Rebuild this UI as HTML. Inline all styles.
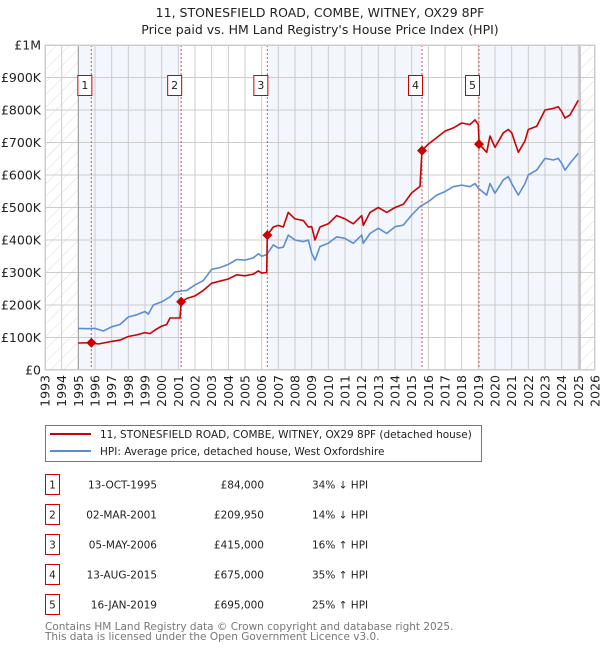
<!DOCTYPE html>
<html><head><meta charset="utf-8"><style>
body{margin:0;background:#fff;}
svg{display:block;font-family:"DejaVu Sans","Liberation Sans",sans-serif;}
</style></head><body>
<svg id="c" width="600" height="650" xmlns="http://www.w3.org/2000/svg">
<defs><pattern id="hatch" width="9" height="9" patternUnits="userSpaceOnUse" patternTransform="rotate(45)"><rect width="9" height="9" fill="#fff"/><line x1="0" y1="0" x2="0" y2="9" stroke="#d4d4d4" stroke-width="0.8"/></pattern></defs>
<text x="320" y="17" text-anchor="middle" font-size="12.5" fill="#222">11, STONESFIELD ROAD, COMBE, WITNEY, OX29 8PF</text>
<text x="320" y="34" text-anchor="middle" font-size="12.5" fill="#222">Price paid vs. HM Land Registry's House Price Index (HPI)</text>
<g id="plot"></g>
<g>
<rect x="45.5" y="425.5" width="436" height="36" fill="#fff" stroke="#777"/>
<line x1="50" y1="434" x2="91" y2="434" stroke="#cc0000" stroke-width="2"/>
<text x="100" y="438" font-size="10.5" fill="#222">11, STONESFIELD ROAD, COMBE, WITNEY, OX29 8PF (detached house)</text>
<line x1="50" y1="451" x2="91" y2="451" stroke="#5b8ed0" stroke-width="2"/>
<text x="100" y="455" font-size="10.5" fill="#222">HPI: Average price, detached house, West Oxfordshire</text>
</g>
<g id="table" font-size="10.5" fill="#222"></g>
<text x="45" y="630" font-size="10.5" fill="#777">Contains HM Land Registry data © Crown copyright and database right 2025.</text>
<text x="45" y="640" font-size="10.5" fill="#777">This data is licensed under the Open Government Licence v3.0.</text>
</svg>
<script>
const hpiYears=[1995.0,1995.5,1996.0,1996.5,1997.0,1997.5,1998.0,1998.5,1999.0,1999.2,1999.5,2000.0,2000.5,2000.8,2001.2,2001.5,2002.0,2002.5,2003.0,2003.5,2004.0,2004.5,2005.0,2005.5,2005.8,2006.0,2006.3,2006.7,2007.0,2007.3,2007.6,2008.0,2008.5,2008.8,2009.0,2009.2,2009.5,2010.0,2010.5,2011.0,2011.5,2012.0,2012.1,2012.5,2013.0,2013.5,2014.0,2014.5,2015.0,2015.5,2016.0,2016.5,2017.0,2017.5,2018.0,2018.5,2018.8,2019.0,2019.5,2019.7,2020.0,2020.5,2020.8,2021.0,2021.4,2021.8,2022.0,2022.5,2023.0,2023.5,2023.8,2024.0,2024.2,2024.5,2025.0];
const hpiValues=[128,127,128,120,133,140,163,170,180,172,200,210,225,240,243,245,262,275,310,315,325,340,338,345,358,350,355,385,375,378,415,400,395,400,359,338,380,390,410,405,390,415,390,420,436,420,441,446,477,503,518,538,549,564,569,564,574,559,538,574,544,585,595,574,538,574,600,615,651,646,651,636,615,636,667];
const priceYears=[1995.0,1995.78,1996.2,1997.0,1997.5,1998.0,1998.5,1999.0,1999.3,1999.6,2000.0,2000.3,2000.5,2001.1,2001.17,2001.5,2002.0,2002.5,2003.0,2004.0,2004.5,2005.0,2005.5,2005.8,2006.0,2006.3,2006.34,2006.7,2007.0,2007.3,2007.6,2008.0,2008.5,2008.8,2009.0,2009.2,2009.5,2010.0,2010.5,2011.0,2011.5,2012.0,2012.1,2012.5,2013.0,2013.5,2014.0,2014.5,2015.0,2015.5,2015.62,2016.0,2016.5,2017.0,2017.5,2018.0,2018.5,2018.8,2019.0,2019.05,2019.5,2019.7,2020.0,2020.5,2020.8,2021.0,2021.4,2021.8,2022.0,2022.5,2023.0,2023.5,2023.8,2024.0,2024.2,2024.5,2025.0];
const priceValues=[83,84,80,88,92,103,108,115,112,123,135,140,160,160,210,220,228,245,267,280,293,290,295,305,298,300,415,440,445,440,485,465,460,440,441,400,440,450,475,465,450,475,445,485,500,485,500,510,545,565,675,695,715,735,745,760,755,770,755,695,670,720,685,730,740,730,670,705,740,750,800,805,810,795,775,785,830];
const saleLabels=["1","2","3","4","5"];
const saleYears=[1995.78,2001.17,2006.34,2015.62,2019.04];
const salePrices=[84,209.95,415,675,695];
const saleDates=["13-OCT-1995","02-MAR-2001","05-MAY-2006","13-AUG-2015","16-JAN-2019"];
const salePriceText=["£84,000","£209,950","£415,000","£675,000","£695,000"];
const saleHpiText=["34% ↓ HPI","14% ↓ HPI","16% ↑ HPI","35% ↑ HPI","25% ↑ HPI"];
const yTicks=[0,100,200,300,400,500,600,700,800,900,1000];
const yTickLabels=["£0","£100K","£200K","£300K","£400K","£500K","£600K","£700K","£800K","£900K","£1M"];
const xTicks=[1993,1994,1995,1996,1997,1998,1999,2000,2001,2002,2003,2004,2005,2006,2007,2008,2009,2010,2011,2012,2013,2014,2015,2016,2017,2018,2019,2020,2021,2022,2023,2024,2025,2026];

const NS="http://www.w3.org/2000/svg";
const L=45,R=595,T=45,B=370,X0=1993,X1=2026,YMAX=1000;
const xs=v=>L+(v-X0)/(X1-X0)*(R-L);
const ys=v=>B-v/YMAX*(B-T);
function mk(tag,attrs,parent){const e=document.createElementNS(NS,tag);for(const k in attrs)e.setAttribute(k,attrs[k]);parent.appendChild(e);return e;}
const plot=document.getElementById('plot');
let r;
r=mk('rect',{x:L,y:T,width:R-L,height:B-T,fill:'#fff'},plot);


const bandEdges=[1995,saleYears[1],saleYears[2],saleYears[3],saleYears[4],2025.1];
for(let i=0;i<bandEdges.length-1;i+=2){
 r=mk('rect',{x:xs(bandEdges[i]),y:T,width:xs(bandEdges[i+1])-xs(bandEdges[i]),height:B-T,fill:'#f3f6fd'},plot);
 
 
}
r=mk('rect',{x:L,y:T,width:xs(1995)-L,height:B-T,fill:'url(#hatch)'},plot);


r=mk('rect',{x:xs(2025.1),y:T,width:R-xs(2025.1),height:B-T,fill:'url(#hatch)'},plot);


yTicks.forEach((v,i)=>{
 const g=mk('line',{x1:L,x2:R,y1:ys(v),y2:ys(v),stroke:'#ccc','stroke-width':1},plot);
 
 
 const t=mk('text',{x:L-4,y:ys(v)+4.5,'text-anchor':'end','font-size':12.5,fill:'#222'},plot);
 t.textContent=yTickLabels[i];
 
 
});
xTicks.forEach(v=>{
 const g=mk('line',{x1:xs(v),x2:xs(v),y1:T,y2:B,stroke:'#ccc','stroke-width':1},plot);
 
 
 const t=mk('text',{transform:`translate(${xs(v)+4.5},${B+5}) rotate(-90)`,'text-anchor':'end','font-size':12.5,fill:'#222'},plot);
 t.textContent=v;
 
 
});
[1995,2025.1].forEach(v=>{
 const g=mk('line',{x1:xs(v),x2:xs(v),y1:T,y2:B,stroke:'#999','stroke-width':1},plot);
 
 
});
saleYears.forEach((v,i)=>{
 const g=mk('line',{x1:xs(v),x2:xs(v),y1:T,y2:B,stroke:'#e05050','stroke-width':1,'stroke-dasharray':'2,2'},plot);
 
 
});
function path(xa,va,color,name){
 const d=xa.map((x,i)=>(i?'L':'M')+xs(x).toFixed(1)+','+ys(va[i]).toFixed(1)).join('');
 const p=mk('path',{d:d,fill:'none',stroke:color,'stroke-width':1.6,'stroke-linejoin':'round'},plot);
 
 
}
path(hpiYears,hpiValues,'#5b8ed0','hpi-line');
path(priceYears,priceValues,'#cc0000','price-paid-line');
saleYears.forEach((v,i)=>{
 const x=xs(v),y=ys(salePrices[i]);
 const p=mk('path',{d:`M${x},${y-5}L${x+5},${y}L${x},${y+5}L${x-5},${y}Z`,fill:'#cc0000'},plot);
 
 
 const b=mk('rect',{x:x-13.5,y:75.5,width:14,height:20,fill:'#fff',stroke:'#cc0000'},plot);
 
 
 const t=mk('text',{x:x-6.5,y:89,'text-anchor':'middle','font-size':11,fill:'#222'},plot);
 t.textContent=saleLabels[i];
 
 
});
const frame=mk('rect',{x:L+0.5,y:T+0.5,width:R-L-1,height:B-T-1,fill:'none',stroke:'#ccc'},plot);


const tb=document.getElementById('table');
saleLabels.forEach((s,i)=>{
 const y=485+i*30;
 const g=mk('g',{},tb);
 
 
 const b=mk('rect',{x:45.5,y:y-10.5,width:14,height:20,fill:'#fff',stroke:'#cc0000'},g);
 
 
 let t=mk('text',{x:52.5,y:y+3.5,'text-anchor':'middle'},g);t.textContent=s;
 
 
 t=mk('text',{x:157,y:y+3.5,'text-anchor':'end'},g);t.textContent=saleDates[i];
 
 
 t=mk('text',{x:264,y:y+3.5,'text-anchor':'end'},g);t.textContent=salePriceText[i];
 
 
 t=mk('text',{x:312,y:y+3.5},g);t.textContent=saleHpiText[i];
 
 
});
</script>
</body></html>
